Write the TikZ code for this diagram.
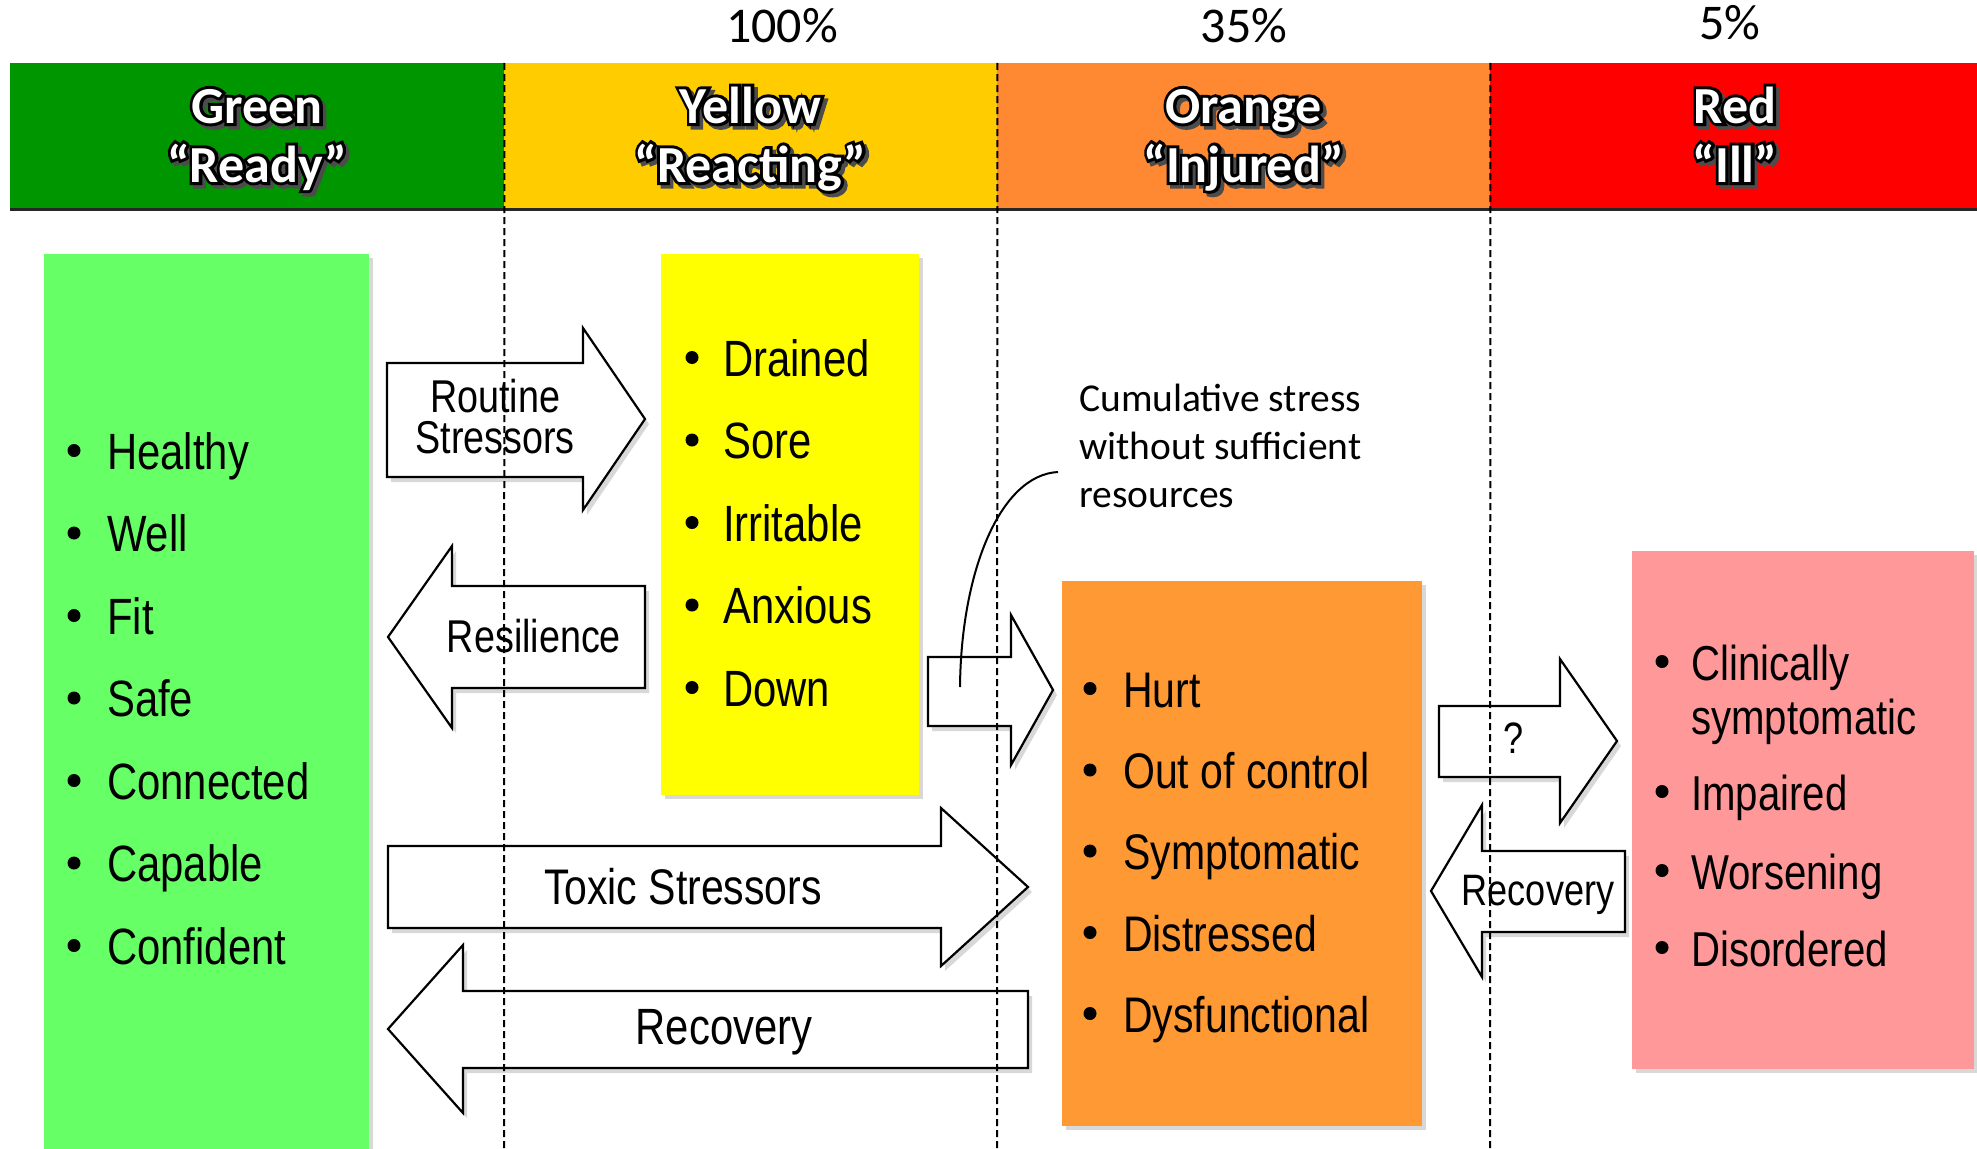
\documentclass[tikz,border=0pt]{standalone}
\usepackage{fontspec}
\setmainfont{Carlito}
\newfontfamily\narrowfont{Liberation Sans}[FakeStretch=0.82]
\newfontfamily\hdoutfont{Carlito}[FakeBold=11.5,BoldFeatures={FakeBold=11.5}]
\usetikzlibrary{shadows}

\definecolor{hdgreen}{RGB}{0,150,0}
\definecolor{hdyellow}{RGB}{255,204,0}
\definecolor{hdorange}{RGB}{255,136,51}
\definecolor{hdred}{RGB}{255,0,0}
\definecolor{bxgreen}{RGB}{102,255,102}
\definecolor{bxyellow}{RGB}{255,255,0}
\definecolor{bxorange}{RGB}{255,153,51}
\definecolor{bxpink}{RGB}{255,153,153}

\newcommand\hdline[4]{%
  \node[hdouter,text=black!70,shift={(3.5,3.5)}] (#1s) at (#2,#3) {#4};
  \node[hdouter,text=black] (#1o) at (#2,#3) {#4};
  \node[hdtext,text=white] (#1) at (#2,#3) {#4};
}
\newcommand\bitem[6]{% name, bulletx, textx, baseline, size, text
  \fill (#2,#4-18.5) circle (6.5);
  \node[anchor=base west,inner sep=0,font=\narrowfont\fontsize{#5}{#5}\selectfont] (#1) at (#3,#4) {#6};
}

\begin{document}
\begin{tikzpicture}[x=1pt,y=-1pt,
  hdtext/.style={anchor=base,inner sep=0,font=\fontsize{52}{52}\selectfont\bfseries},
  hdouter/.style={anchor=base,inner sep=0,font=\hdoutfont\fontsize{52}{52}\selectfont\bfseries},
  seg/.style={anchor=north west,inner sep=0,minimum height=146pt,draw=none},
  box/.style={anchor=north west,inner sep=0,draw=none,
     drop shadow={shadow xshift=4pt,shadow yshift=-4pt,opacity=.3}},
  blockarrow/.style={draw=black,line width=2.2pt,fill=white,line join=miter,
     drop shadow={shadow xshift=4pt,shadow yshift=-5pt,opacity=.3}},
  alabel/.style={anchor=base,inner sep=0,font=\narrowfont\fontsize{#1}{#1}\selectfont},
  pct/.style={anchor=base,inner sep=0,font=\fontsize{50}{50}\selectfont},
  note/.style={anchor=base west,inner sep=0,font=\fontsize{39.5}{39.5}\selectfont},
  divider/.style={line width=2pt,dash pattern=on 7pt off 4pt}
]
\useasboundingbox (0,0) rectangle (1977,1148);
\fill[white] (0,0) rectangle (1977,1148);

% percentages
\node[pct] (p100) at (782,43) {100\%};
\node[pct] (p35) at (1244,43) {35\%};
\node[pct] (p5) at (1730,40) {5\%};

% header bar
\node[seg,fill=hdgreen,minimum width=494pt] (hg) at (10,63) {};
\node[seg,fill=hdyellow,minimum width=493pt] (hy) at (504,63) {};
\node[seg,fill=hdorange,minimum width=493pt] (ho) at (997,63) {};
\node[seg,fill=hdred,minimum width=487pt] (hr) at (1490,63) {};
\draw[line width=3pt,black!85] (hg.south west) -- (hr.south east);

\hdline{g1}{257}{123}{Green}
\hdline{g2}{257}{182}{“Ready”}
\hdline{y1}{750.5}{123}{Yellow}
\hdline{y2}{750.5}{182}{“Reacting”}
\hdline{o1}{1243.5}{123}{Orange}
\hdline{o2}{1243.5}{182}{“Injured”}
\hdline{r1}{1735}{123}{Red}
\hdline{r2}{1735}{182}{“Ill”}

% boxes
\node[box,fill=bxgreen,minimum width=325pt,minimum height=920pt] (gbox) at (44,254) {};
\node[box,fill=bxyellow,minimum width=258pt,minimum height=541pt] (ybox) at (661,254) {};
\node[box,fill=bxorange,minimum width=360pt,minimum height=545pt] (obox) at (1062,581) {};
\node[box,fill=bxpink,minimum width=342pt,minimum height=518pt] (pbox) at (1632,551) {};

% lists
\bitem{gi1}{74}{107}{469}{51}{Healthy}
\bitem{gi2}{74}{107}{551.5}{51}{Well}
\bitem{gi3}{74}{107}{634}{51}{Fit}
\bitem{gi4}{74}{107}{716.5}{51}{Safe}
\bitem{gi5}{74}{107}{799}{51}{Connected}
\bitem{gi6}{74}{107}{881.5}{51}{Capable}
\bitem{gi7}{74}{107}{964}{51}{Confident}

\bitem{yi1}{692}{723}{376}{51}{Drained}
\bitem{yi2}{692}{723}{458.5}{51}{Sore}
\bitem{yi3}{692}{723}{541}{51}{Irritable}
\bitem{yi4}{692}{723}{623.5}{51}{Anxious}
\bitem{yi5}{692}{723}{706}{51}{Down}

\bitem{oi1}{1090}{1123}{707}{50}{Hurt}
\bitem{oi2}{1090}{1123}{788.5}{50}{Out of control}
\bitem{oi3}{1090}{1123}{869.5}{50}{Symptomatic}
\bitem{oi4}{1090}{1123}{951}{50}{Distressed}
\bitem{oi5}{1090}{1123}{1032}{50}{Dysfunctional}

\bitem{pi1}{1662}{1691}{680}{49}{Clinically}
\node[anchor=base west,inner sep=0,font=\narrowfont\fontsize{49}{49}\selectfont] (pi1b) at (1691,734) {symptomatic};
\bitem{pi2}{1662}{1691}{810}{49}{Impaired}
\bitem{pi3}{1662}{1691}{889}{49}{Worsening}
\bitem{pi4}{1662}{1691}{966}{49}{Disordered}

% block arrows
% Routine Stressors (right)
\draw[blockarrow] (387,363) -- (583,363) -- (583,328) -- (645,419) -- (583,510) -- (583,477) -- (387,477) -- cycle;
\node[inner sep=0,align=center,font=\narrowfont\fontsize{46}{41}\selectfont] (rs) at (495,417) {Routine\\Stressors};
% Resilience (left)
\draw[blockarrow] (645,586) -- (452,586) -- (452,546) -- (388,637) -- (452,728) -- (452,688) -- (645,688) -- cycle;
\node[alabel=46] (res) at (534,652) {Resilience};
% yellow -> orange
\draw[blockarrow] (928,657) -- (1011,657) -- (1011,615) -- (1053,690) -- (1011,765) -- (1011,726) -- (928,726) -- cycle;
% Toxic Stressors
\draw[blockarrow] (388,846) -- (941,846) -- (941,808) -- (1028,887) -- (941,966) -- (941,928) -- (388,928) -- cycle;
\node[alabel=50] (tox) at (683,904) {Toxic Stressors};
% Recovery (bottom)
\draw[blockarrow] (1028,991) -- (463,991) -- (463,945) -- (388,1029) -- (463,1113) -- (463,1068) -- (1028,1068) -- cycle;
\node[alabel=51] (rec1) at (724,1044) {Recovery};
% ? arrow
\draw[blockarrow] (1439,706) -- (1560,706) -- (1560,659) -- (1617,741) -- (1560,823) -- (1560,777) -- (1439,777) -- cycle;
\node[alabel=44] (qm) at (1514,753) {?};
% Recovery (right)
\draw[blockarrow] (1625,851) -- (1482,851) -- (1482,805) -- (1431,891) -- (1482,977) -- (1482,932) -- (1625,932) -- cycle;
\node[alabel=44] (rec2) at (1538,905) {Recovery};

% annotation
\node[note] (n1) at (1079,411) {Cumulative stress};
\node[note] (n2) at (1079,459) {without sufficient};
\node[note] (n3) at (1079,507) {resources};
\coordinate (cstart) at (960,687);
\coordinate (cend) at (1058,472);
\draw[line width=2pt] (cstart) .. controls (961,572) and (1000,475) .. (cend);

% dashed dividers
\draw[divider] (hg.north east) -- (504,1148);
\draw[divider] (hy.north east) -- (997,1148);
\draw[divider] (ho.north east) -- (1490,1148);
\end{tikzpicture}
\end{document}
